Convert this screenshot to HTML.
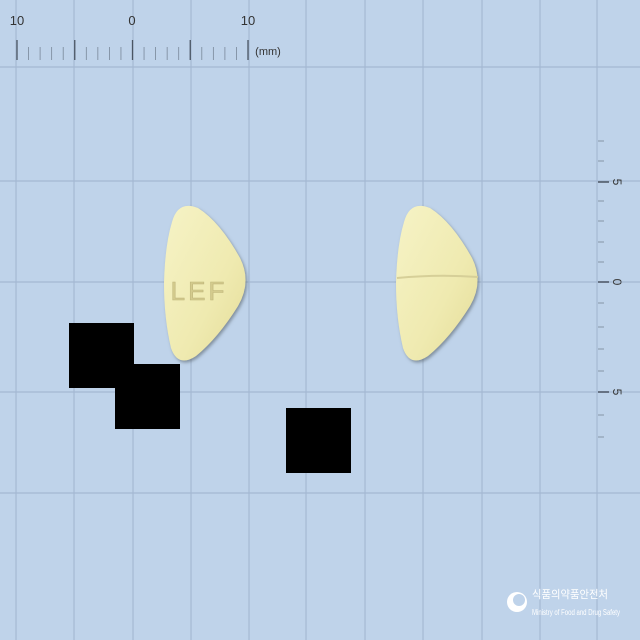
<!DOCTYPE html>
<html><head><meta charset="utf-8"><style>
html,body{margin:0;padding:0;background:#bfd3ea;}
svg{display:block;font-family:"Liberation Sans","Noto Sans CJK KR",sans-serif;}
</style></head><body>
<svg width="640" height="640" viewBox="0 0 640 640">
<defs>
<linearGradient id="pg" x1="0" y1="0" x2="1" y2="1">
<stop offset="0" stop-color="#f6f3c6"/><stop offset="0.6" stop-color="#efeab0"/><stop offset="1" stop-color="#e4dc98"/>
</linearGradient>
<filter id="sh" x="-20%" y="-20%" width="140%" height="140%"><feDropShadow dx="1.5" dy="2" stdDeviation="1.5" flood-color="#55606a" flood-opacity="0.6"/></filter>
</defs>
<rect width="640" height="640" fill="#bfd3ea"/>
<g id="grid" stroke="#a5b9d2" stroke-width="1.2"></g>
<g id="topruler" stroke="#4a5563"></g>
<g font-size="13" fill="#333" text-anchor="middle">
<text x="17" y="25">10</text><text x="132" y="25">0</text><text x="248" y="25">10</text>
<text x="268" y="55" font-size="11">(mm)</text>
</g>
<g id="rightruler" stroke="#4a5563"></g>
<g font-size="12" fill="#333" text-anchor="middle">
<text transform="translate(617,182) rotate(90)" y="4">5</text>
<text transform="translate(617,282) rotate(90)" y="4">0</text>
<text transform="translate(617,392) rotate(90)" y="4">5</text>
</g>
<g filter="url(#sh)">
<path d="M172,222 Q178,200 198,208 Q220,222 240,258 Q252,282 238,306 Q218,338 196,356 Q178,368 171,348 Q164,318 164,283 Q165,245 172,222 Z" fill="url(#pg)"/>
<text x="199" y="300" font-size="26" fill="#d4cb8e" stroke="#bfb67a" stroke-width="0.6" text-anchor="middle" letter-spacing="3">LEF</text>
</g>
<g filter="url(#sh)">
<path d="M404,222 Q410,200 430,208 Q452,222 472,258 Q484,282 470,306 Q450,338 428,356 Q410,368 403,348 Q396,318 396,283 Q397,245 404,222 Z" fill="url(#pg)"/>
<path d="M397,278 Q438,274 478,277" stroke="#d6cf98" stroke-width="2" fill="none"/>
</g>
<rect x="69" y="323" width="65" height="65" fill="#000"/>
<rect x="115" y="364" width="65" height="65" fill="#000"/>
<rect x="286" y="408" width="65" height="65" fill="#000"/>
<g>
<circle cx="517" cy="602" r="10" fill="#fff"/>
<circle cx="519" cy="600" r="6" fill="#bfd3ea"/>
<text x="532" y="598" font-size="11" fill="#fff" textLength="76" lengthAdjust="spacingAndGlyphs">식품의약품안전처</text>
<text x="532" y="615" font-size="8" fill="#fff" textLength="88" lengthAdjust="spacingAndGlyphs">Ministry of Food and Drug Safety</text>
</g>
<script>
var vx=[16,74,133,191,249,306,365,423,482,540,597];
var hy=[67,181,282,392,493];
var g=document.getElementById('grid');
vx.forEach(function(x){var l=document.createElementNS('http://www.w3.org/2000/svg','line');


l.setAttribute('x1',x);l.setAttribute('x2',x);l.setAttribute('y1',0);l.setAttribute('y2',640);g.appendChild(l);});
hy.forEach(function(y){var l=document.createElementNS('http://www.w3.org/2000/svg','line');


l.setAttribute('x1',0);l.setAttribute('x2',640);l.setAttribute('y1',y);l.setAttribute('y2',y);g.appendChild(l);});
var tr=document.getElementById('topruler');
for(var i=0;i<=20;i++){var x=17+i*11.55;var maj=i%5==0;
var l=document.createElementNS('http://www.w3.org/2000/svg','line');


l.setAttribute('x1',x);l.setAttribute('x2',x);l.setAttribute('y1',maj?40:47);l.setAttribute('y2',60);
l.setAttribute('stroke-width',maj?1.3:0.8);l.setAttribute('stroke-opacity',maj?1:0.6);tr.appendChild(l);}
var rr=document.getElementById('rightruler');
var ty=[141,161,182,201,221,242,262,282,303,327,349,371,392,415,437];
ty.forEach(function(y){var maj=(y==182||y==282||y==392);
var l=document.createElementNS('http://www.w3.org/2000/svg','line');


l.setAttribute('x1',598);l.setAttribute('x2',maj?609:604);l.setAttribute('y1',y);l.setAttribute('y2',y);
l.setAttribute('stroke-width',maj?1.5:1);l.setAttribute('stroke-opacity',maj?1:0.5);rr.appendChild(l);});
</script>
</svg>
</body></html>
